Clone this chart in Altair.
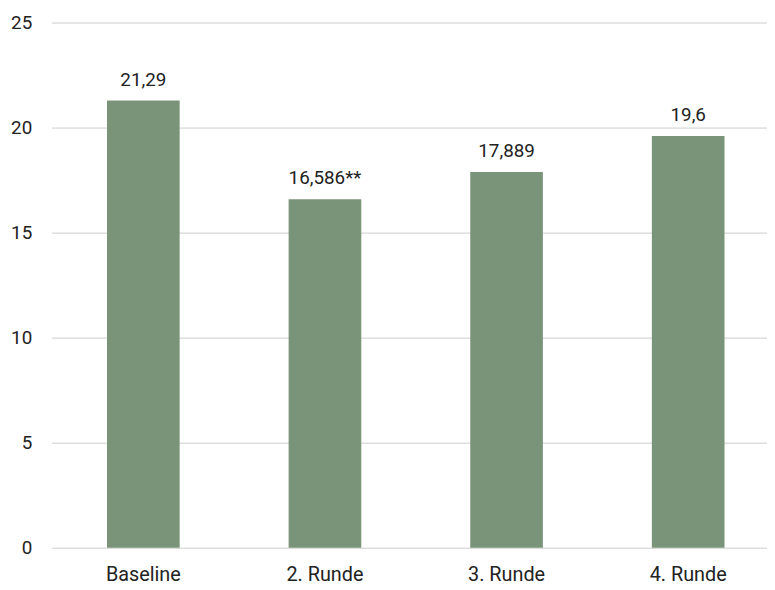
import altair as alt
import pandas as pd

categories = ["Baseline", "2. Runde", "3. Runde", "4. Runde"]
values = [21.29, 16.586, 17.889, 19.6]
labels = ["21,29", "16,586**", "17,889", "19,6"]

df = pd.DataFrame({"cat": categories, "val": values, "lab": labels})

FONT = "Roboto"

x = alt.X("cat:N", sort=categories, title=None,
          scale=alt.Scale(paddingInner=0.6, paddingOuter=0.2695, align=0.566),
          axis=alt.Axis(labelAngle=0, domain=False, ticks=False, labelPadding=33,
                        labelBaseline="alphabetic",
                        labelFontSize=20, labelFont=FONT, labelColor="#222222"))
y = alt.Y("val:Q", title=None,
          scale=alt.Scale(domain=[0, 25], nice=False),
          axis=alt.Axis(values=[0, 5, 10, 15, 20, 25], domain=False, ticks=False,
                        labelPadding=20, labelFontSize=19, labelFont=FONT,
                        labelColor="#222222", gridColor="#cccccc", gridWidth=1))

bars = alt.Chart(df).mark_bar(color="#7a9479").encode(x=x, y=y)
text = alt.Chart(df).mark_text(baseline="alphabetic", dy=-15, fontSize=19,
                               font=FONT, color="#222222").encode(
    x=alt.X("cat:N", sort=categories), y="val:Q", text="lab:N")

chart = (bars + text).properties(
    width=722, height=530,
    autosize=alt.AutoSizeParams(type="none"),
    padding={"left": 44, "top": 12, "right": 0, "bottom": 38},
).configure_view(stroke=None)

chart.save("out.html", embed_options={"renderer": "svg", "actions": False})
